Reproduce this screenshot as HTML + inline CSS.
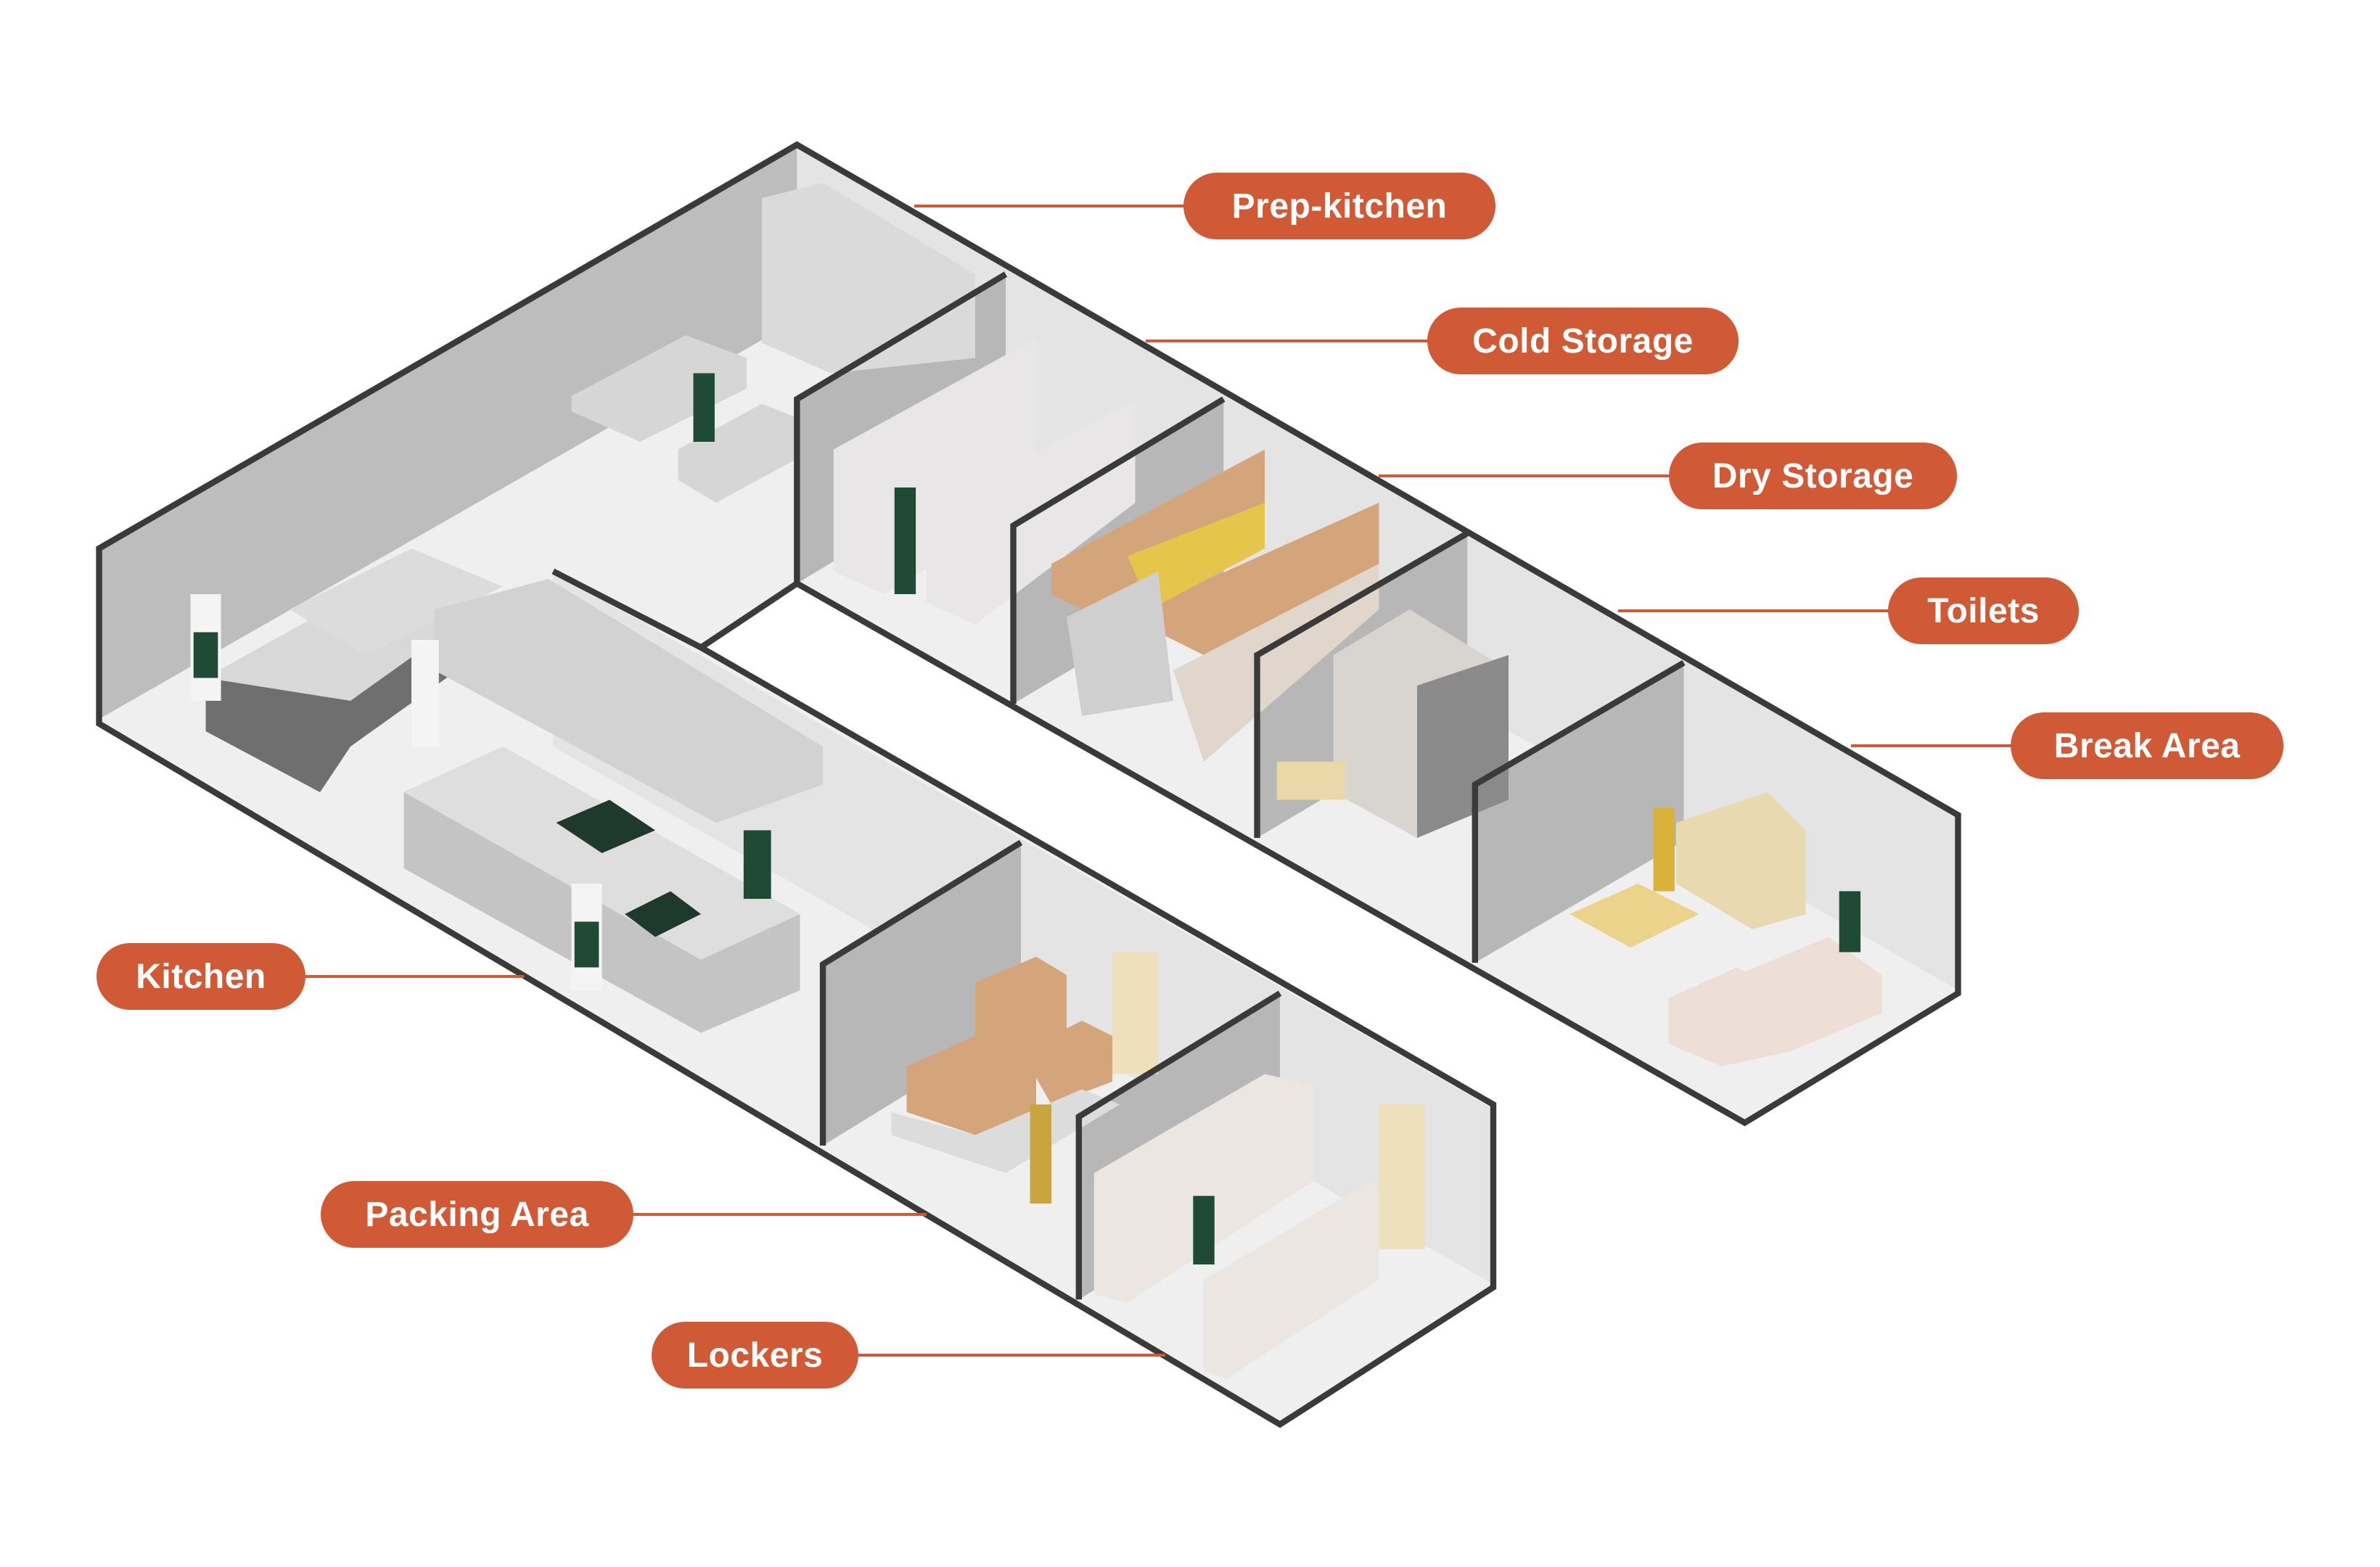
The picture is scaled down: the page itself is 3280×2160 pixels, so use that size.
<!DOCTYPE html>
<html><head><meta charset="utf-8"><style>
html,body{margin:0;padding:0;background:#fff;}
body{width:3280px;height:2160px;position:relative;overflow:hidden;font-family:"Liberation Sans",sans-serif;}
svg{position:absolute;left:0;top:0;}
.pill{position:absolute;background:#d05a36;color:#fff;font-weight:bold;font-size:48px;border-radius:46px;display:flex;align-items:center;justify-content:center;height:92px;letter-spacing:0.5px;}
.ln{position:absolute;height:4px;background:#d05a36;}
</style></head><body>
<svg width="3280" height="2160" viewBox="0 0 1561.9 1028.6">
<!-- floor -->
<polygon points="523,95 1285,535 1285,652 1145,737 523,383 460,425 980,725 980,845 840,935 65,475 65,360" fill="#efefef"/>
<!-- back walls -->
<polygon points="65,360 523,95 523,210 65,472" fill="#bdbdbd"/>
<polygon points="523,95 1285,535 1285,650 523,210" fill="#e4e4e4"/>
<polygon points="363,375 980,728 980,843 363,490" fill="#e4e4e4"/>
<!-- partition walls -->
<polygon points="523,262 660,180 660,300 523,383" fill="#b7b7b7"/>
<polygon points="665,345 803,262 803,380 665,462" fill="#b7b7b7"/>
<polygon points="825,430 963,350 963,468 825,550" fill="#b7b7b7"/>
<polygon points="968,515 1105,435 1105,552 968,632" fill="#b7b7b7"/>
<polygon points="540,633 670,553 670,672 540,752" fill="#b7b7b7"/>
<polygon points="708,733 840,652 840,772 708,853" fill="#b7b7b7"/>
<!-- prep kitchen furniture -->
<polygon points="500,130 540,120 640,180 640,235 545,245 500,225" fill="#dadada"/>
<polygon points="375,260 450,220 490,235 490,255 420,290 375,270" fill="#d6d6d6"/>
<polygon points="445,295 500,265 525,275 525,300 470,330 445,315" fill="#d6d6d6"/>
<rect x="455" y="245" width="14" height="45" fill="#1e4a36"/>
<!-- kitchen -->
<polygon points="135,445 225,395 300,410 300,440 230,490 210,520 135,480" fill="#6f6f6f"/>
<polygon points="135,445 225,395 300,410 230,460" fill="#d8d8d8"/>
<polygon points="190,400 270,360 330,385 240,430" fill="#dcdcdc"/>
<polygon points="285,400 360,380 540,490 540,515 470,540 285,440" fill="#d2d2d2"/>
<polygon points="265,520 330,490 525,600 525,650 460,678 265,570" fill="#c4c4c4"/>
<polygon points="265,520 330,490 525,600 460,630" fill="#dedede"/>
<polygon points="365,540 400,525 430,545 395,560" fill="#1d3a2c"/>
<polygon points="410,600 440,585 460,600 430,615" fill="#1d3a2c"/>
<rect x="125" y="390" width="20" height="70" fill="#f4f4f4"/><rect x="127" y="415" width="16" height="30" fill="#1e4a36"/>
<rect x="270" y="420" width="18" height="70" fill="#f4f4f4"/>
<rect x="375" y="580" width="20" height="70" fill="#f4f4f4"/><rect x="377" y="605" width="16" height="30" fill="#1e4a36"/>
<rect x="488" y="545" width="18" height="45" fill="#1e4a36"/>
<!-- cold storage fridges -->
<polygon points="547,295 680,222 680,330 580,390 547,375" fill="#e8e6e6"/>
<polygon points="608,335 745,262 745,330 640,410 608,395" fill="#e8e6e6"/>
<rect x="587" y="320" width="14" height="70" fill="#1e4a36"/>
<!-- dry storage shelves -->
<polygon points="690,370 830,295 830,345 720,405 690,390" fill="#d4a57a"/>
<polygon points="760,395 905,330 905,370 790,430 760,415" fill="#d4a57a"/>
<polygon points="740,365 830,330 830,360 755,400" fill="#e5c54a"/>
<polygon points="700,405 760,375 770,460 710,470" fill="#cfcfcf"/>
<polygon points="770,440 905,370 905,400 790,500" fill="#e0d6cc"/>
<!-- toilets -->
<polygon points="875,430 925,400 990,440 990,525 930,550 875,520" fill="#d8d5d0"/>
<polygon points="930,450 990,430 990,525 930,550" fill="#8a8a8a"/>
<rect x="838" y="500" width="45" height="25" fill="#ead8a8"/>
<!-- break area -->
<polygon points="1030,600 1075,580 1115,600 1070,622" fill="#ecd38c"/>
<polygon points="1100,540 1160,520 1185,545 1185,600 1150,610 1100,580" fill="#e9d9b0"/>
<polygon points="1095,655 1140,635 1175,655 1175,690 1130,700 1095,685" fill="#eedfd6"/>
<polygon points="1140,640 1200,615 1235,640 1235,665 1175,690 1140,670" fill="#eedfd6"/>
<rect x="1085" y="530" width="14" height="55" fill="#d9b23a"/>
<rect x="1207" y="585" width="14" height="40" fill="#1e4a36"/>
<!-- packing -->
<polygon points="640,645 680,628 700,640 700,700 665,712 640,700" fill="#d4a57a"/>
<polygon points="595,700 640,680 680,705 680,740 640,745 595,730" fill="#d4a57a"/>
<polygon points="670,690 710,670 730,680 730,710 690,725" fill="#d4a57a"/>
<polygon points="585,730 640,745 710,715 735,725 660,770 585,745" fill="#dcdcdc"/>
<rect x="730" y="625" width="30" height="80" fill="#ede0ba"/>
<rect x="676" y="725" width="14" height="65" fill="#c9a540"/>
<!-- lockers -->
<polygon points="718,770 830,705 862,712 862,775 740,855 718,850" fill="#ebe6e2"/>
<polygon points="790,840 900,775 905,780 905,840 805,905 790,900" fill="#ebe6e2"/>
<rect x="905" y="725" width="30" height="95" fill="#ede0ba"/>
<rect x="783" y="785" width="14" height="45" fill="#1e4a36"/>
<!-- outline -->
<g fill="none" stroke="#3a3a3a" stroke-width="4" stroke-linejoin="miter">
<polygon points="523,95 1285,535 1285,652 1145,737 523,383 460,425 980,725 980,845 840,935 65,475 65,360"/>
<line x1="363" y1="375" x2="460" y2="425"/>
<polyline points="523,383 523,262 660,180"/>
<polyline points="665,462 665,345 803,262"/>
<polyline points="825,550 825,430 963,350"/>
<polyline points="968,632 968,515 1105,435"/>
<polyline points="540,752 540,633 670,553"/>
<polyline points="708,853 708,733 840,652"/>
</g>
</svg>
<div class="ln" style="left:1260px;top:282px;width:380px"></div>
<div class="ln" style="left:1579px;top:468px;width:400px"></div>
<div class="ln" style="left:1900px;top:654px;width:410px"></div>
<div class="ln" style="left:2230px;top:840px;width:380px"></div>
<div class="ln" style="left:2551px;top:1026px;width:230px"></div>
<div class="ln" style="left:410px;top:1344px;width:312px"></div>
<div class="ln" style="left:860px;top:1672px;width:417px"></div>
<div class="ln" style="left:1170px;top:1866px;width:436px"></div>
<div class="pill" style="left:1631px;top:238px;width:430px">Prep-kitchen</div>
<div class="pill" style="left:1967px;top:424px;width:429px">Cold Storage</div>
<div class="pill" style="left:2300px;top:610px;width:397px">Dry Storage</div>
<div class="pill" style="left:2602px;top:796px;width:263px">Toilets</div>
<div class="pill" style="left:2771px;top:982px;width:376px">Break Area</div>
<div class="pill" style="left:133px;top:1300px;width:288px">Kitchen</div>
<div class="pill" style="left:442px;top:1628px;width:431px">Packing Area</div>
<div class="pill" style="left:898px;top:1822px;width:285px">Lockers</div>
</body></html>
